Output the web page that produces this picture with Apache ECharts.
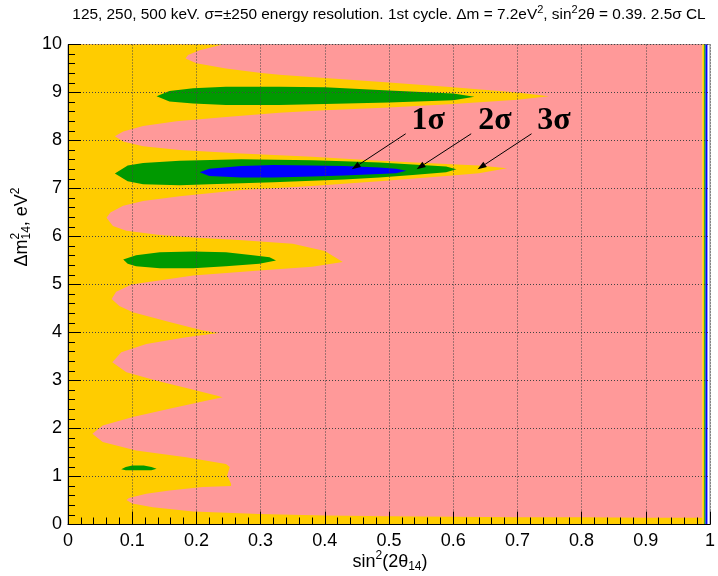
<!DOCTYPE html>
<html><head><meta charset="utf-8">
<script src="https://cdn.jsdelivr.net/npm/echarts@6/dist/echarts.min.js"></script>
<style>html,body{margin:0;padding:0;background:#fff}#c{width:718px;height:576px}</style>
</head><body><div id="c"></div>
<script>
// ---- data ----
const xRange = [0, 1];
const yRange = [0, 10];
const xStep = 0.1;
const yStep = 1;

// excluded (pink) area
const pinkArea = [[0,0],[0.988,0],[0.988,10],[0,10]];

// 3-sigma (yellow) boundary, traced top -> bottom
const yellowEdge = [
[0.241,10],[0.205,9.88],[0.187,9.78],[0.183,9.71],[0.20,9.61],[0.246,9.50],[0.298,9.41],[0.329,9.37],
[0.40,9.30],[0.50,9.21],[0.60,9.11],[0.70,9.00],[0.749,8.92],[0.70,8.85],[0.60,8.76],[0.50,8.69],
[0.40,8.63],[0.329,8.58],[0.246,8.49],[0.169,8.40],[0.117,8.30],[0.086,8.19],[0.073,8.09],[0.086,7.98],
[0.117,7.88],[0.174,7.80],[0.27,7.73],[0.38,7.66],[0.485,7.58],[0.589,7.51],[0.64,7.48],[0.684,7.42],
[0.64,7.32],[0.589,7.26],[0.485,7.15],[0.38,7.05],[0.27,6.97],[0.174,6.84],[0.117,6.74],[0.086,6.64],
[0.066,6.50],[0.060,6.39],[0.070,6.22],[0.091,6.12],[0.143,6.03],[0.195,5.98],[0.272,5.92],[0.35,5.85],
[0.40,5.70],[0.428,5.47],[0.38,5.37],[0.298,5.29],[0.195,5.19],[0.099,5.00],[0.075,4.85],[0.068,4.70],
[0.08,4.55],[0.101,4.42],[0.158,4.22],[0.21,4.04],[0.235,3.99],[0.184,3.90],[0.122,3.76],[0.083,3.59],
[0.069,3.38],[0.091,3.17],[0.137,3.00],[0.189,2.83],[0.231,2.69],[0.241,2.65],[0.215,2.58],[0.158,2.41],
[0.101,2.24],[0.054,2.06],[0.038,1.89],[0.054,1.72],[0.106,1.54],[0.184,1.40],[0.246,1.26],[0.252,1.20],
[0.248,1.02],[0.254,0.85],[0.254,0.80],[0.21,0.78],[0.158,0.71],[0.122,0.64],[0.095,0.55],[0.091,0.51],
[0.10,0.44],[0.132,0.36],[0.195,0.27],[0.298,0.22],[0.40,0.19],[0.50,0.17],[0.60,0.16],[0.70,0.15],
[0.80,0.15],[0.90,0.14],[0.988,0.14]
];
const yellowCorners = [[0.988,0],[0,0],[0,10]];

// 2-sigma (green) islands
const green9 = [[0.138,8.92],[0.158,9.03],[0.195,9.09],[0.246,9.12],[0.329,9.12],[0.40,9.11],[0.50,9.04],[0.60,8.98],
[0.633,8.91],[0.60,8.84],[0.50,8.79],[0.40,8.76],[0.329,8.74],[0.246,8.74],[0.195,8.77],[0.158,8.81]];
const green73 = [[0.073,7.31],[0.093,7.48],[0.117,7.53],[0.174,7.58],[0.27,7.61],[0.38,7.59],[0.43,7.57],[0.485,7.54],
[0.537,7.50],[0.589,7.46],[0.605,7.40],[0.589,7.34],[0.537,7.28],[0.485,7.23],[0.43,7.19],[0.38,7.16],[0.32,7.13],
[0.27,7.11],[0.22,7.09],[0.174,7.07],[0.117,7.09],[0.093,7.15]];
const green55 = [[0.086,5.52],[0.106,5.61],[0.143,5.67],[0.195,5.69],[0.246,5.67],[0.288,5.61],[0.314,5.57],[0.324,5.50],
[0.298,5.43],[0.246,5.38],[0.195,5.34],[0.143,5.34],[0.106,5.38],[0.093,5.43]];
const green12 = [[0.083,1.15],[0.09,1.20],[0.10,1.23],[0.118,1.23],[0.13,1.20],[0.138,1.16],[0.13,1.13],[0.09,1.13]];

// 1-sigma (blue) island
const blue73 = [[0.205,7.34],[0.22,7.41],[0.27,7.47],[0.32,7.49],[0.38,7.48],[0.43,7.47],[0.485,7.44],[0.511,7.41],
[0.527,7.37],[0.511,7.32],[0.485,7.30],[0.43,7.27],[0.38,7.25],[0.32,7.23],[0.27,7.23],[0.22,7.26]];

// thin strips at sin^2 = 1 edge
const stripEdges = [0.988, 0.991, 0.993, 0.996];

// annotations
const sigmaText = ['1σ','2σ','3σ'];
const sigmaAt = [[0.561,8.41],[0.665,8.41],[0.757,8.41]];
const arrowFrom = [[0.526,8.14],[0.628,8.14],[0.722,8.14]];
const arrowTo = [[0.442,7.40],[0.543,7.40],[0.638,7.40]];

// ---- colours ----
const C_PINK = '#ff9999', C_YEL = '#ffcc00', C_GRN = '#009900', C_BLU = '#0000ff';

const regions = [
  {pts: pinkArea, color: C_PINK},
  {pts: yellowEdge.concat(yellowCorners), color: C_YEL},
  {pts: green9, color: C_GRN},
  {pts: green73, color: C_GRN},
  {pts: green55, color: C_GRN},
  {pts: green12, color: C_GRN},
  {pts: blue73, color: C_BLU},
  {pts: [[stripEdges[0],0],[stripEdges[1],0],[stripEdges[1],10],[stripEdges[0],10]], color: C_YEL},
  {pts: [[stripEdges[1],0],[stripEdges[2],0],[stripEdges[2],10],[stripEdges[1],10]], color: C_GRN},
  {pts: [[stripEdges[2],0],[stripEdges[3],0],[stripEdges[3],10],[stripEdges[2],10]], color: C_BLU}
];

// text measuring for composed labels
const mctx = document.createElement('canvas').getContext('2d');
const FF = '"Liberation Sans", Arial, sans-serif';
function tw(s, size){ mctx.font = size + 'px ' + FF; return mctx.measureText(s).width; }
// pieces: [text, size, dy, stack]
function compose(pieces){
  let x = 0, out = [], lastW = 0;
  pieces.forEach(p => {
    const [t, s, dy, stack] = p;
    const w = tw(t, s);
    let px = x;
    if (stack) px = x - lastW;
    out.push({type:'text', x: px, y: dy, style:{text:t, font: s + 'px ' + FF, fill:'#000', verticalAlign:'middle', align:'left'}});
    if (stack) { x = px + Math.max(w, lastW); } else { x += w; lastW = w; }
  });
  return {children: out, width: x};
}

const titleC = compose([
  ['125, 250, 500 keV. σ=±250 energy resolution. 1st cycle. Δm = 7.2eV',15.4,0],
  ['2',11,-5],[', sin',15.4,0],['2',11,-5],['2θ = 0.39. 2.5σ CL',15.4,0]
]);
const xLab = compose([['sin',18,0],['2',12,-6],['(2θ',18,0],['14',12,5],[')',18,0]]);
const yLab = compose([['Δm',18,0],['2',12,-6],['14',12,5,true],[', eV',18,0],['2',12,-6]]);

const chart = echarts.init(document.getElementById('c'), null, {renderer:'canvas'});

const axisCommon = {
  type: 'value',
  z: 5,
  axisLine: {show: true, onZero: false, lineStyle: {color: '#000', width: 1}},
  axisTick: {show: true, inside: true, length: 13, lineStyle: {color: '#000', width: 1}},
  minorTick: {show: true, splitNumber: 5, length: 7, lineStyle: {color: '#000', width: 1}},
  splitLine: {show: true, lineStyle: {color: '#444', width: 1, type: [1, 2]}},
  axisLabel: {color: '#000', fontSize: 18, fontFamily: FF}
};

chart.setOption({
  animation: false,
  backgroundColor: '#fff',
  grid: {left: 68, right: 7, top: 44.5, bottom: 51.5, show: true, borderColor: '#888', borderWidth: 1, backgroundColor: 'transparent'},
  xAxis: Object.assign({}, axisCommon, {min: xRange[0], max: xRange[1], interval: xStep,
    axisLabel: Object.assign({}, axisCommon.axisLabel, {margin: 8})}),
  yAxis: Object.assign({}, axisCommon, {min: yRange[0], max: yRange[1], interval: yStep,
    axisLabel: Object.assign({}, axisCommon.axisLabel, {margin: 6})}),
  graphic: [
    {type:'group', x: 389 - titleC.width/2, y: 15, children: titleC.children},
    {type:'group', x: 390 - xLab.width/2, y: 562, children: xLab.children},
    {type:'group', x: 22, y: 227 + yLab.width/2, rotation: Math.PI/2, children: yLab.children}
  ],
  series: [
    {
      type: 'custom', z: 1, silent: true,
      data: regions.map(r => [r.pts[0][0], r.pts[0][1]]),
      renderItem: function(params, api){
        const r = regions[params.dataIndex];
        return {type:'polygon', shape:{points: r.pts.map(p => api.coord(p))}, style:{fill: r.color, stroke: null}};
      }
    },
    {
      type: 'custom', z: 10, silent: true,
      data: sigmaText.map((t, i) => [sigmaAt[i][0], sigmaAt[i][1]]),
      renderItem: function(params, api){
        const i = params.dataIndex;
        const a = api.coord(arrowFrom[i]), b = api.coord(arrowTo[i]), c = api.coord(sigmaAt[i]);
        const dx = b[0]-a[0], dy = b[1]-a[1], L = Math.hypot(dx, dy), ux = dx/L, uy = dy/L;
        const hl = 9, hw = 3.2;
        const base = [b[0]-ux*hl, b[1]-uy*hl];
        return {type:'group', children:[
          {type:'line', shape:{x1:a[0], y1:a[1], x2:base[0], y2:base[1]}, style:{stroke:'#000', lineWidth:1}},
          {type:'polygon', shape:{points:[b, [base[0]-uy*hw, base[1]+ux*hw], [base[0]+uy*hw, base[1]-ux*hw]]}, style:{fill:'#000'}},
          {type:'text', x:c[0], y:c[1], style:{text: sigmaText[i], font:'bold 32px "Liberation Serif", "Times New Roman", serif', fill:'#000', align:'center', verticalAlign:'middle'}}
        ]};
      }
    }
  ]
});
</script>
</body></html>
